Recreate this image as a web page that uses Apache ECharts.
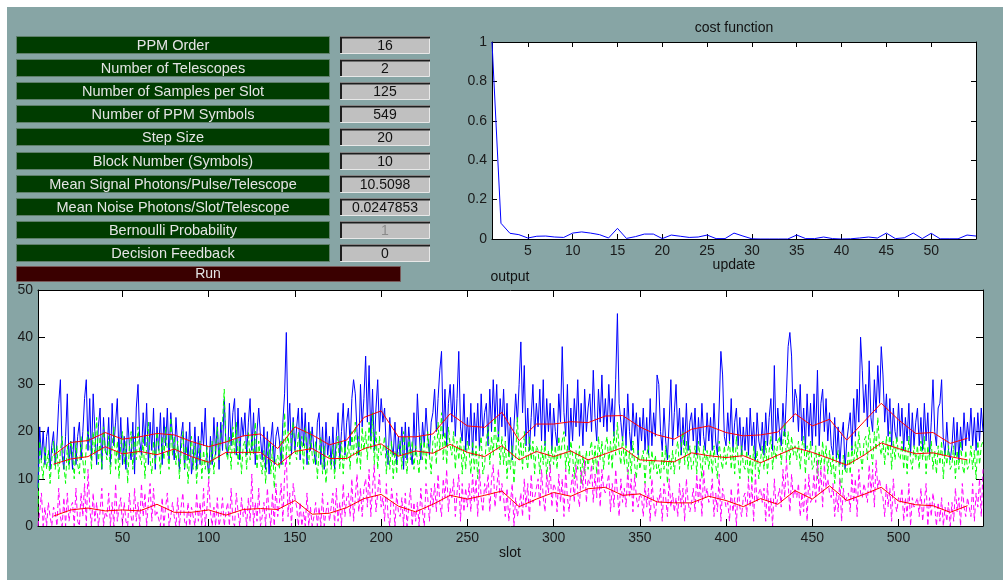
<!DOCTYPE html>
<html>
<head>
<meta charset="utf-8">
<title>PPM receiver</title>
<script src="https://cdn.jsdelivr.net/npm/echarts@6/dist/echarts.min.js"></script>
<style>
  html, body { margin: 0; padding: 0; background: #ffffff; }
  #fig { position: absolute; left: 7px; top: 7px; width: 996px; height: 573px; background: #87a5a5; }
  #chart { position: absolute; left: 0; top: 0; width: 1003px; height: 580px; }
</style>
</head>
<body>
<div id="fig"></div>
<div id="chart"></div>
<script>
// ---- simulation parameters shown in the control panel ----
const paramLabels = [
  'PPM Order', 'Number of Telescopes', 'Number of Samples per Slot', 'Number of PPM Symbols',
  'Step Size', 'Block Number (Symbols)', 'Mean Signal Photons/Pulse/Telescope',
  'Mean Noise Photons/Slot/Telescope', 'Bernoulli Probability', 'Decision Feedback'
];
const paramValues = ['16', '2', '125', '549', '20', '10', '10.5098', '0.0247853', '1', '0'];
const paramDisabled = [false, false, false, false, false, false, false, false, true, false];

// ---- cost function per update ----
const costValues = [
  1.0, 0.08, 0.029, 0.022, 0.005, 0.014, 0.015, 0.010, 0.008, 0.030,
  0.036, 0.030, 0.022, 0.005, 0.054, 0.003, 0.012, 0.025, 0.025, 0.002,
  0.020, 0.014, 0.008, 0.010, 0.020, 0.002, 0.002, 0.030, 0.015, 0.001,
  0.000, 0.000, 0.000, 0.000, 0.020, 0.002, 0.002, 0.010, 0.002, 0.000,
  0.001, 0.005, 0.010, 0.005, 0.030, 0.002, 0.006, 0.030, 0.002, 0.029,
  0.001, 0.001, 0.001, 0.020, 0.015
];
const updateTicks = [5, 10, 15, 20, 25, 30, 35, 40, 45, 50];

// ---- output counts per slot ----
const outputA = [
  8,21,14,20,13,19,21,12,17,20,  13,18,26,31,15,12,19,28,13,18,  12,21,13,19,22,14,20,27,31,16,
  27,14,28,20,13,21,25,12,23,16,  15,23,13,26,17,22,27,14,23,13,  19,12,23,17,14,22,11,25,30,18,
  15,24,17,26,13,22,16,25,12,21,  16,24,13,23,17,25,14,24,19,14,  23,17,12,19,22,12,20,14,22,11,
  14,21,12,19,13,22,17,25,14,11,  19,13,23,15,22,12,22,16,27,17,  15,26,17,24,27,15,25,14,23,19,
  24,15,22,27,16,24,13,20,25,19,  14,21,12,20,11,18,22,13,19,21,  18,13,22,28,41,20,26,15,23,16,
  21,25,14,25,17,24,13,22,16,21,  16,13,22,24,13,21,12,22,15,19,  13,21,12,19,24,14,20,26,15,22,
  25,17,27,31,28,20,15,30,21,27,  36,22,34,18,29,16,25,31,20,27,  22,25,16,13,23,17,15,22,13,19,
  15,21,12,22,14,21,16,13,24,15,  28,20,14,22,17,25,19,15,22,24,  29,20,27,33,37,19,29,17,26,30,
  22,30,19,27,37,21,18,28,16,23,  17,26,15,24,18,26,16,28,19,24,  26,17,29,20,31,22,30,18,27,21,
  29,19,26,15,23,14,21,28,22,30,  39,24,34,17,25,16,23,30,19,26,  21,29,18,31,17,27,20,26,16,25,
  20,17,28,22,38,24,19,30,16,25,  18,27,21,31,19,26,17,29,20,25,  28,20,33,23,18,29,22,32,21,27,
  20,30,22,27,19,31,45,26,22,18,  25,17,28,20,16,26,19,24,15,23,  18,25,16,23,15,27,17,24,19,32,
  30,20,16,25,18,14,22,31,17,24,  30,19,25,15,23,17,26,16,22,24,  18,25,15,23,17,26,19,16,24,18,
  23,16,26,18,15,25,37,32,19,17,  24,18,27,16,22,25,17,23,15,21,  16,23,15,25,17,22,14,24,18,16,
  22,15,24,17,23,27,16,34,18,25,  20,17,26,19,28,38,41,36,22,29,  27,20,30,18,25,16,28,19,26,17,
  28,19,33,17,26,29,20,27,18,24,  17,15,23,14,21,13,19,22,12,18,  21,24,16,27,19,29,22,40,33,24,
  30,21,35,23,20,31,24,34,26,38,  32,22,28,19,27,17,25,20,18,26,  19,25,16,23,18,26,15,24,17,22,
  25,17,23,16,26,18,24,15,22,31,  20,17,25,26,31,18,15,22,16,14,  17,23,15,22,14,21,16,24,17,22,
  18,25,17,23,16,24,18,25,20
];
const outputB = [
  3,18,13,10,17,12,16,9,14,18,  12,17,10,16,19,13,9,17,12,18,  16,10,18,13,11,19,14,10,17,20,
  18,12,20,15,23,13,19,12,21,16,  14,19,11,17,21,12,18,10,17,20,  13,18,9,17,20,12,19,14,21,15,
  13,19,10,17,22,14,11,18,13,20,  17,11,19,14,21,16,12,23,15,19,  13,18,10,16,20,12,17,9,15,19,
  12,17,9,15,18,10,16,12,17,10,  13,18,11,17,21,14,19,22,29,16,  14,19,12,21,15,22,13,18,11,17,
  18,12,20,14,19,15,22,12,18,14,  11,16,9,15,18,11,17,8,14,15,  12,18,13,24,15,20,13,19,22,16,
  14,20,15,19,12,21,16,13,20,15,  13,18,10,16,19,11,17,9,14,15,  12,17,10,16,19,12,18,11,17,14,
  18,12,20,15,22,13,19,12,21,16,  20,14,22,16,24,13,20,12,19,15,  16,19,11,17,12,18,10,16,11,17,
  18,12,20,15,11,19,14,18,12,17,  17,11,19,14,18,12,20,15,11,18,  19,13,22,16,24,14,20,13,21,17,
  15,20,12,18,14,19,11,17,12,18,  16,11,18,12,17,10,16,19,11,13,  18,21,13,19,15,23,16,20,13,19,
  13,18,10,16,12,17,9,15,23,14,  18,12,20,15,12,19,14,18,11,17,  16,11,17,13,18,10,16,12,17,13,
  17,12,19,14,18,20,12,17,11,18,  15,10,16,12,17,9,15,11,16,12,  16,18,12,17,11,19,14,18,12,17,
  19,13,18,12,20,15,22,16,13,19,  13,17,10,16,11,18,13,10,16,12,  12,16,9,15,17,10,16,12,15,11,
  13,10,16,12,17,9,15,12,16,11,  16,18,12,17,20,13,18,12,17,12,  13,17,11,18,14,10,17,13,16,12,
  16,11,17,13,10,18,14,12,17,13,  16,18,12,17,11,19,14,10,17,13,  12,16,10,15,9,17,12,16,10,14,
  17,12,18,11,16,19,12,17,14,18,  19,13,18,22,14,20,13,19,15,17,  14,18,12,17,19,11,17,14,18,12,
  13,17,10,16,12,18,13,17,11,16,  11,15,9,14,16,10,8,15,12,11,  16,11,17,13,18,14,20,15,12,18,
  19,14,21,16,13,20,16,23,17,15,  18,13,19,15,20,12,18,14,19,15,  14,18,12,17,11,19,14,12,17,14,
  17,12,18,14,19,11,17,14,18,12,  16,11,17,13,18,10,16,13,17,12,  13,17,10,16,12,18,13,11,16,12,
  13,17,12,16,10,18,13,17,18
];
const outputC = [
  0,3,7,0,4,0,5,2,0,4,  3,0,8,2,0,6,0,7,1,4,  5,0,8,1,0,7,2,9,0,12,
  4,0,7,1,5,0,3,8,0,3,  2,7,0,5,0,9,1,4,6,0,  5,1,0,7,2,0,8,1,5,0,
  9,2,7,0,5,9,1,8,2,3,  3,0,6,0,4,7,0,2,5,2,  0,6,0,4,7,1,0,5,0,4,
  4,0,7,1,5,0,8,0,4,10,  3,0,4,0,6,0,2,6,0,3,  5,0,8,1,0,7,3,0,6,2,
  4,0,6,1,11,0,5,1,8,0,  2,5,0,8,3,0,7,0,9,2,  5,9,1,11,15,2,7,0,9,6,
  4,0,5,0,3,0,7,0,4,0,  2,5,0,4,0,7,0,3,5,1,  4,7,0,8,1,5,0,9,2,6,
  7,2,10,1,6,11,3,8,2,8,  10,4,12,2,8,13,3,7,11,4,  6,1,9,2,0,8,5,0,7,3,
  2,6,0,7,0,4,8,0,5,1,  5,0,8,3,0,9,6,1,8,4,  9,3,11,5,2,10,6,12,3,8,
  6,10,2,7,11,1,9,3,8,4,  9,3,11,5,10,2,12,6,3,9,  7,11,3,10,13,4,8,12,5,9,
  6,2,8,1,5,9,0,6,2,4,  7,2,10,4,9,1,11,5,6,8,  10,4,12,6,3,11,7,13,4,9,
  8,3,11,5,10,2,12,6,3,8,  11,5,13,7,4,12,8,14,5,10,  9,13,5,11,6,14,4,12,8,7,
  7,11,3,9,4,12,7,2,10,5,  8,4,12,6,10,3,11,6,4,7,  6,2,9,4,8,1,10,5,2,6,
  5,8,1,9,6,2,10,4,7,3,  6,2,9,4,8,1,10,5,3,5,  8,3,11,5,10,2,12,6,8,5,
  6,10,2,7,3,11,1,8,6,4,  5,1,8,3,6,0,9,4,2,6,  7,2,10,4,9,1,11,5,7,8,
  5,8,1,9,2,6,0,10,4,6,  8,4,12,6,14,9,3,11,6,8,  6,9,2,7,3,10,1,11,5,6,
  11,5,14,7,12,4,13,8,10,7,  6,9,2,7,3,10,1,8,5,6,  7,3,11,5,10,2,12,7,6,9,
  9,5,13,7,12,4,14,8,10,7,  6,2,9,4,8,1,10,5,3,6,  5,8,1,6,2,9,0,6,4,5,
  6,2,8,1,5,9,0,6,2,7,  4,0,5,1,6,0,4,1,5,0,  5,1,8,3,6,0,9,4,2,6,
  6,2,9,1,7,4,10,2,12
];

// ---- block averages (one value per 10 slots) ----
const blockSlots = [
  10,20,30,40,50,60,70,80,90,100,110,120,130,140,150,160,170,180,190,200,
  210,220,230,240,250,260,270,280,290,300,310,320,330,340,350,360,370,380,390,400,
  410,420,430,440,450,460,470,480,490,500,510,520,530,540
];
const avgA = [
  15.0,17.7,18.1,19.8,18.4,18.9,19.6,19.3,17.9,16.8,
  17.8,19.1,19.5,16.4,21.0,19.3,17.2,18.2,23.0,24.4,
  18.9,18.9,19.5,23.8,21.2,20.9,24.1,18.1,21.6,21.6,
  22.1,21.9,23.3,23.4,21.0,19.3,18.4,20.5,21.2,19.8,
  19.1,19.3,19.9,23.8,21.2,22.6,18.2,22.1,26.0,22.5,
  19.6,19.8,17.5,18.6
];
const avgB = [
  13.1,14.2,14.7,16.8,15.3,15.8,15.1,16.3,14.7,13.5,
  15.6,15.6,15.6,12.9,15.8,16.4,14.3,14.3,16.4,17.4,
  14.8,15.9,15.4,17.3,15.6,14.7,17.0,14.0,15.8,14.7,
  15.9,14.0,15.3,16.6,14.0,13.8,13.6,15.5,14.9,14.5,
  14.9,13.4,15.0,16.6,15.6,14.3,12.9,15.0,17.6,16.4,
  15.3,15.5,14.7,14.0
];
const avgC = [
  2.1,3.4,3.8,3.2,3.4,3.2,4.6,2.9,2.9,3.4,
  2.3,3.5,3.7,3.5,5.4,2.5,2.7,3.9,5.8,6.7,
  4.2,3.0,4.6,6.5,5.7,6.5,7.4,4.1,5.7,7.1,
  6.3,7.9,8.2,6.5,6.8,5.1,4.9,4.9,6.3,5.4,
  4.1,5.8,4.6,7.5,5.7,8.5,5.4,6.7,8.2,5.3,
  4.5,4.3,2.9,4.3
];
const slotTicks = [50, 100, 150, 200, 250, 300, 350, 400, 450, 500];

// ---- drawing ----
const FONT = '"Liberation Sans", Arial, Helvetica, sans-serif';
const BLACK = '#000000';

function xy(xs, ys) { return ys.map((v, i) => [xs[i], v]); }
const updates = costValues.map((_, i) => i + 1);
const slots = outputA.map((_, i) => i + 1);

function boxAxes(gridIndex, min, max, ticks, tickLen) {
  return [
    {
      gridIndex, type: 'value', min, max, position: 'bottom',
      axisLine: { show: true, onZero: false, lineStyle: { color: BLACK, width: 1 } },
      axisTick: { show: true, inside: true, length: tickLen, customValues: ticks, lineStyle: { color: BLACK } },
      axisLabel: { show: true, customValues: ticks, color: '#1a1a1a', fontSize: 14, fontFamily: FONT, margin: 5 },
      splitLine: { show: false }
    },
    {
      gridIndex, type: 'value', min, max, position: 'top',
      axisLine: { show: true, onZero: false, lineStyle: { color: BLACK, width: 1 } },
      axisTick: { show: true, inside: true, length: tickLen, customValues: ticks, lineStyle: { color: BLACK } },
      axisLabel: { show: false },
      splitLine: { show: false }
    }
  ];
}
function boxYAxes(gridIndex, min, max, interval, tickLen) {
  return [
    {
      gridIndex, type: 'value', min, max, interval, position: 'left',
      axisLine: { show: true, onZero: false, lineStyle: { color: BLACK, width: 1 } },
      axisTick: { show: true, inside: true, length: tickLen, lineStyle: { color: BLACK } },
      axisLabel: { color: '#1a1a1a', fontSize: 14, fontFamily: FONT, margin: 5 },
      splitLine: { show: false }
    },
    {
      gridIndex, type: 'value', min, max, interval, position: 'right',
      axisLine: { show: true, onZero: false, lineStyle: { color: BLACK, width: 1 } },
      axisTick: { show: true, inside: true, length: tickLen, lineStyle: { color: BLACK } },
      axisLabel: { show: false },
      splitLine: { show: false }
    }
  ];
}

// control panel widgets
const panel = [];
const ROW0 = 36, PITCH = 23.1, ROWH = 17;
paramLabels.forEach((label, i) => {
  const y = Math.round(ROW0 + i * PITCH);
  panel.push({
    type: 'rect', shape: { x: 16.5, y: y + 0.5, width: 313, height: ROWH },
    style: { fill: '#003c00', stroke: '#5e7f6a', lineWidth: 1 }
  });
  panel.push({
    type: 'text', x: 173, y: y + ROWH / 2 + 1,
    style: { text: label, fill: '#e4e4e4', font: '14.5px ' + FONT, textAlign: 'center', textVerticalAlign: 'middle' }
  });
  panel.push({
    type: 'rect', shape: { x: 340.5, y: y + 0.5, width: 89, height: ROWH },
    style: { fill: '#c0c0c0', stroke: '#e8e8e8', lineWidth: 1 }
  });
  panel.push({
    type: 'polyline', shape: { points: [[341, y + ROWH], [341, y + 1.5], [430, y + 1.5]] },
    style: { stroke: '#1e1e1e', lineWidth: 2, fill: null }
  });
  panel.push({
    type: 'text', x: 385, y: y + ROWH / 2 + 1.5,
    style: {
      text: paramValues[i], fill: paramDisabled[i] ? '#8a8a8a' : '#111111',
      font: '14px ' + FONT, textAlign: 'center', textVerticalAlign: 'middle'
    }
  });
});
panel.push({
  type: 'rect', shape: { x: 16.5, y: 266.5, width: 384, height: 15 },
  style: { fill: '#3a0000', stroke: '#7a5a5a', lineWidth: 1 }
});
panel.push({
  type: 'text', x: 208, y: 274.5,
  style: { text: 'Run', fill: '#e4e4e4', font: '14px ' + FONT, textAlign: 'center', textVerticalAlign: 'middle' }
});

// axis titles
const titles = [
  { text: 'cost function', x: 734, y: 28 },
  { text: 'update', x: 734, y: 265 },
  { text: 'output', x: 510, y: 277 },
  { text: 'slot', x: 510, y: 553 }
].map(t => ({
  type: 'text', x: t.x, y: t.y,
  style: { text: t.text, fill: '#111111', font: '14px ' + FONT, textAlign: 'center', textVerticalAlign: 'middle' }
}));

const chart = echarts.init(document.getElementById('chart'), null, { renderer: 'canvas' });
chart.setOption({
  animation: false,
  backgroundColor: 'transparent',
  grid: [
    { left: 492, top: 42, width: 484, height: 197, show: true, backgroundColor: '#ffffff', borderWidth: 0 },
    { left: 38, top: 290, width: 945, height: 236, show: true, backgroundColor: '#ffffff', borderWidth: 0 }
  ],
  xAxis: [
    ...boxAxes(0, 1, 55, updateTicks, 5),
    ...boxAxes(1, 1, 549, slotTicks, 7)
  ],
  yAxis: [
    ...boxYAxes(0, 0, 1, 0.2, 5),
    ...boxYAxes(1, 0, 50, 10, 7)
  ],
  graphic: { elements: panel.concat(titles) },
  series: [
    {
      name: 'cost', type: 'line', xAxisIndex: 0, yAxisIndex: 0, data: xy(updates, costValues),
      showSymbol: false, lineStyle: { color: '#0000ff', width: 1 }, itemStyle: { color: '#0000ff' }
    },
    {
      name: 'A', type: 'line', xAxisIndex: 2, yAxisIndex: 2, data: xy(slots, outputA),
      showSymbol: false, lineStyle: { color: '#0000ff', width: 1 }, itemStyle: { color: '#0000ff' }
    },
    {
      name: 'B', type: 'line', xAxisIndex: 2, yAxisIndex: 2, data: xy(slots, outputB),
      showSymbol: false, lineStyle: { color: '#00ff00', width: 1, type: [5, 3] }, itemStyle: { color: '#00ff00' }
    },
    {
      name: 'C', type: 'line', xAxisIndex: 2, yAxisIndex: 2, data: xy(slots, outputC),
      showSymbol: false, lineStyle: { color: '#ff00ff', width: 1, type: [5, 3] }, itemStyle: { color: '#ff00ff' }
    },
    ...[avgA, avgB, avgC].map((avg, k) => ({
      name: 'avg' + k, type: 'line', xAxisIndex: 2, yAxisIndex: 2, data: xy(blockSlots, avg),
      showSymbol: false, lineStyle: { color: '#ff0000', width: 1 }, itemStyle: { color: '#ff0000' }
    }))
  ]
});
</script>
</body>
</html>
